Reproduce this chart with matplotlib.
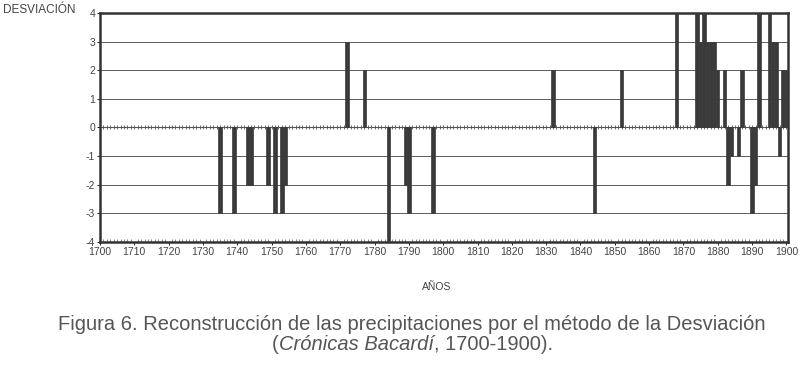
import matplotlib
matplotlib.use("Agg")
from matplotlib import pyplot as plt
import numpy as np

plt.rcParams['font.family'] = ['Liberation Sans', 'DejaVu Sans']
plt.rcParams['axes.unicode_minus'] = False

# years with a non-zero deviation (all other years are 0)
years = [1735, 1739, 1743, 1744, 1749, 1751, 1753, 1754, 1772, 1777, 1784,
         1789, 1790, 1797, 1832, 1844, 1852, 1868, 1874, 1875, 1876, 1877,
         1878, 1879, 1880, 1882, 1883, 1884, 1886, 1887, 1890, 1891, 1892,
         1895, 1896, 1897, 1898, 1899, 1900]
values = [-3, -3, -2, -2, -2, -3, -3, -2, 3, 2, -4,
          -2, -3, -3, 2, -3, 2, 4, 4, 3, 4, 3,
          3, 3, 2, 2, -2, -1, -1, 2, -3, -2, 4,
          4, 3, 3, -1, 2, 2]
all_years = np.arange(1700, 1901)
xticks = np.arange(1700, 1901, 10)
yticks = np.arange(-4, 5, 1)

fig = plt.figure(figsize=(8.03, 3.69), dpi=100)
ax = fig.add_axes([0.1245, 0.344, 0.857, 0.621])

bar_col = "#3a3a3a"
ax.bar(years, values, width=1.0, color=bar_col, edgecolor=bar_col,
       linewidth=0.5, zorder=3)

# category ticks along the zero line
ax.plot(all_years, np.zeros(len(all_years)), ls="none", marker="|",
        ms=3, mew=0.6, color="#555555", zorder=2)
ax.axhline(0, color="#555555", lw=0.8, zorder=2)

ax.set_xlim(1700, 1900.5)
ax.set_ylim(-4, 4)
ax.set_xticks(xticks)
ax.set_yticks(yticks)
ax.set_xticks(all_years, minor=True)
ax.tick_params(axis="x", which="minor", length=2, width=0.5, direction="in",
               color="#555555")
ax.tick_params(axis="both", which="major", labelsize=7.5, labelcolor="#444444",
               length=2, width=0.6, pad=1.5)
ax.grid(axis="y", color="#444444", lw=0.6, zorder=0)
for s in ax.spines.values():
    s.set_linewidth(1.8)
    s.set_color("#333333")

fig.text(0.004, 0.973, "DESVIACIÓN", fontsize=8.5, color="#444444", ha="left",
         va="center")
fig.text(0.544, 0.222, "AÑOS", fontsize=7.5, color="#444444", ha="center",
         va="center")

cap_col = "#555555"
fig.text(0.513, 0.106,
         "Figura 6. Reconstrucción de las precipitaciones por el método de la Desviación",
         fontsize=14.5, color=cap_col, ha="center", va="baseline")
t1 = fig.text(0.339, 0.052, "(", fontsize=14.5, color=cap_col, ha="left",
              va="baseline")
t2 = ax.annotate("Crónicas Bacardí", xy=(1, 0), xycoords=t1, va="bottom",
                 fontsize=14.5, color=cap_col, style="italic")
ax.annotate(", 1700-1900).", xy=(1, 0), xycoords=t2, va="bottom",
            fontsize=14.5, color=cap_col)

fig.savefig("out.png", dpi=100)
